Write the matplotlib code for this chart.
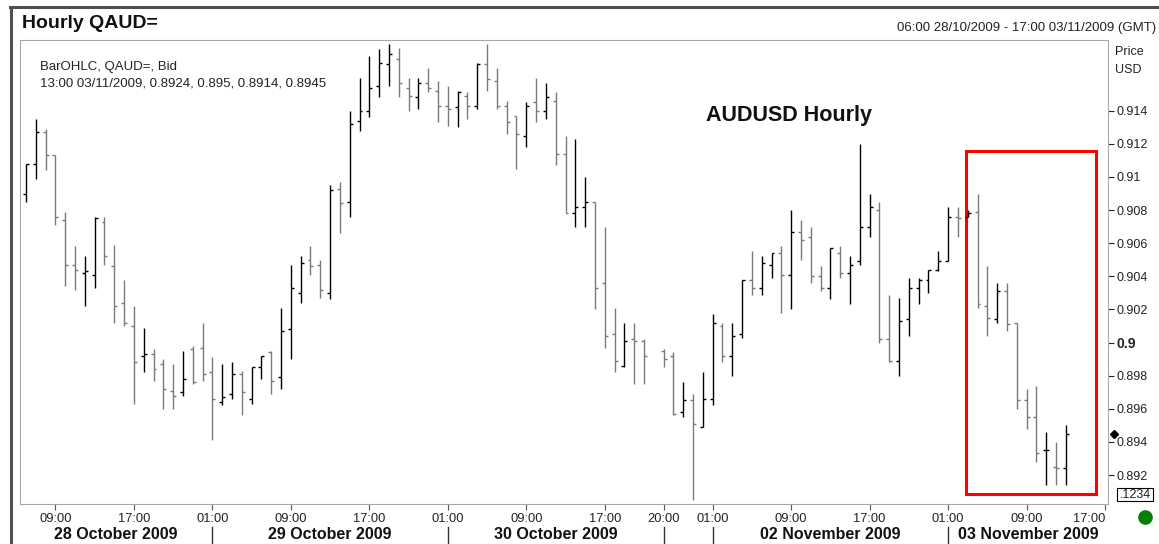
import numpy as np
import matplotlib
matplotlib.use("Agg")
import matplotlib.pyplot as plt
from matplotlib.patches import Rectangle
from matplotlib.lines import Line2D

plt.rcParams['font.family'] = ['Liberation Sans', 'DejaVu Sans']

# hourly AUDUSD bid bars, 06:00 28/10/2009 .. 13:00 03/11/2009 (slot 64 = weekend gap)
opens = [0.9090, 0.9108, 0.9127, 0.9113, 0.9074, 0.9047, 0.9042, 0.9041, 0.9073, 0.9046,
         0.9024, 0.9010, 0.8992, 0.8993, 0.8987, 0.8971, 0.8970, 0.8996, 0.8997, 0.8982,
         0.8964, 0.8969, 0.8981, 0.8966, 0.8985, 0.8994, 0.8979, 0.9008, 0.9030, 0.9050,
         0.9047, 0.9030, 0.9093, 0.9085, 0.9134, 0.9140, 0.9155, 0.9168, 0.9171, 0.9154,
         0.9148, 0.9157, 0.9152, 0.9143, 0.9142, 0.9149, 0.9143, 0.9168, 0.9158, 0.9143,
         0.9137, 0.9125, 0.9145, 0.9140, 0.9146, 0.9114, 0.9078, 0.9082, 0.9085, 0.9036,
         0.9005, 0.8986, 0.9002, 0.9001, np.nan, 0.8995, 0.8992, 0.8958, 0.8965, 0.8949,
         0.8966, 0.9010, 0.8992, 0.9005, 0.9038, 0.9033, 0.9047, 0.9054, 0.9041, 0.9067,
         0.9064, 0.9040, 0.9033, 0.9054, 0.9042, 0.9049, 0.9070, 0.9080, 0.9002, 0.8989,
         0.9014, 0.9033, 0.9038, 0.9044, 0.9049, 0.9076, 0.9076, 0.9079, 0.9022, 0.9014,
         0.9031, 0.9012, 0.8965, 0.8955, 0.8935, 0.8925, 0.8924]
highs = [0.9108, 0.9135, 0.9129, 0.9113, 0.9079, 0.9058, 0.9052, 0.9076, 0.9076, 0.9059,
         0.9038, 0.9022, 0.9009, 0.8996, 0.8990, 0.8987, 0.8995, 0.8998, 0.9012, 0.8991,
         0.8987, 0.8988, 0.8983, 0.8985, 0.8992, 0.8995, 0.9021, 0.9047, 0.9052, 0.9058,
         0.9050, 0.9095, 0.9097, 0.9140, 0.9160, 0.9173, 0.9177, 0.9180, 0.9178, 0.9160,
         0.9160, 0.9166, 0.9158, 0.9155, 0.9152, 0.9151, 0.9169, 0.9180, 0.9166, 0.9146,
         0.9137, 0.9145, 0.9160, 0.9157, 0.9151, 0.9125, 0.9123, 0.9100, 0.9085, 0.9070,
         0.9021, 0.9012, 0.9012, 0.9002, np.nan, 0.8996, 0.8994, 0.8976, 0.8969, 0.8982,
         0.9017, 0.9012, 0.9012, 0.9038, 0.9055, 0.9052, 0.9054, 0.9058, 0.9080, 0.9074,
         0.9070, 0.9046, 0.9057, 0.9058, 0.9052, 0.9120, 0.9090, 0.9085, 0.9029, 0.9027,
         0.9039, 0.9039, 0.9044, 0.9055, 0.9082, 0.9082, 0.9080, 0.9090, 0.9046, 0.9036,
         0.9036, 0.9012, 0.8972, 0.8974, 0.8946, 0.8940, 0.8950]
lows = [0.9085, 0.9099, 0.9104, 0.9071, 0.9034, 0.9032, 0.9022, 0.9033, 0.9047, 0.9012,
        0.9010, 0.8963, 0.8982, 0.8977, 0.8960, 0.8960, 0.8968, 0.8975, 0.8977, 0.8941,
        0.8962, 0.8966, 0.8956, 0.8963, 0.8978, 0.8969, 0.8972, 0.8990, 0.9024, 0.9041,
        0.9027, 0.9026, 0.9066, 0.9076, 0.9128, 0.9136, 0.9148, 0.9155, 0.9148, 0.9140,
        0.9141, 0.9151, 0.9133, 0.9131, 0.9130, 0.9135, 0.9141, 0.9152, 0.9141, 0.9126,
        0.9105, 0.9118, 0.9133, 0.9135, 0.9107, 0.9078, 0.9070, 0.9070, 0.9020, 0.8997,
        0.8982, 0.8985, 0.8975, 0.8975, np.nan, 0.8985, 0.8956, 0.8955, 0.8905, 0.8949,
        0.8962, 0.8988, 0.8980, 0.9003, 0.9029, 0.9029, 0.9039, 0.9018, 0.9020, 0.9050,
        0.9036, 0.9031, 0.9026, 0.9039, 0.9023, 0.9047, 0.9064, 0.9000, 0.8988, 0.8980,
        0.9004, 0.9023, 0.9030, 0.9043, 0.9049, 0.9064, 0.9076, 0.9021, 0.9004, 0.9012,
        0.9007, 0.8960, 0.8948, 0.8928, 0.8914, 0.8914, 0.8914]
closes = [0.9108, 0.9127, 0.9113, 0.9076, 0.9047, 0.9044, 0.9043, 0.9075, 0.9052, 0.9022,
          0.9012, 0.8988, 0.8993, 0.8984, 0.8972, 0.8968, 0.8978, 0.8976, 0.8981, 0.8966,
          0.8967, 0.8981, 0.8970, 0.8985, 0.8992, 0.8977, 0.9007, 0.9033, 0.9048, 0.9046,
          0.9032, 0.9092, 0.9084, 0.9132, 0.9140, 0.9154, 0.9169, 0.9174, 0.9157, 0.9149,
          0.9157, 0.9154, 0.9143, 0.9141, 0.9151, 0.9143, 0.9168, 0.9159, 0.9143, 0.9133,
          0.9126, 0.9143, 0.9140, 0.9148, 0.9114, 0.9078, 0.9082, 0.9085, 0.9033, 0.9004,
          0.8989, 0.9001, 0.9001, 0.8992, np.nan, 0.8990, 0.8957, 0.8965, 0.8951, 0.8966,
          0.9012, 0.8992, 0.9004, 0.9038, 0.9033, 0.9048, 0.9054, 0.9041, 0.9067, 0.9062,
          0.9040, 0.9033, 0.9057, 0.9042, 0.9047, 0.9070, 0.9082, 0.9002, 0.8989, 0.9013,
          0.9033, 0.9038, 0.9044, 0.9049, 0.9076, 0.9075, 0.9078, 0.9023, 0.9015, 0.9031,
          0.9011, 0.8965, 0.8955, 0.8933, 0.8935, 0.8924, 0.8945]

time_ticks = [3, 11, 19, 27, 35, 43, 51, 59, 65, 70, 78, 86, 94, 102, 110]
time_labels = ["09:00", "17:00", "01:00", "09:00", "17:00", "01:00", "09:00", "17:00",
               "20:00", "01:00", "09:00", "17:00", "01:00", "09:00", "17:00"]
day_breaks = [19, 43, 65, 70, 94]
day_labels = ["28 October 2009", "29 October 2009", "30 October 2009", "", "02 November 2009",
              "03 November 2009"]
price_ticks = [0.892, 0.894, 0.896, 0.898, 0.900, 0.902, 0.904, 0.906, 0.908, 0.910, 0.912, 0.914]
price_labels = ["0.892", "0.894", "0.896", "0.898", "0.9", "0.902", "0.904", "0.906",
                "0.908", "0.91", "0.912", "0.914"]
highlight = (95.8, 109.1, 0.89085, 0.91157)  # red box: x0, x1, y0, y1

W, H = 1159, 544
def fx(px): return px / W
def fy(py): return 1 - py / H

fig = plt.figure(figsize=(W / 100, H / 100), dpi=100)
fig.patch.set_facecolor("white")
ax = fig.add_axes([fx(20), fy(503.5), fx(1108) - fx(20), fy(39.5) - fy(503.5)])

xmin, xmax = -0.61, 110.3
ax.set_xlim(xmin, xmax)
ax.set_ylim(0.89028, 0.9183)

o = np.array(opens); h = np.array(highs); l = np.array(lows); c = np.array(closes)
x = np.arange(len(o))
ok = ~np.isnan(o)
cols = np.where(c >= o, "black", "#7a7a7a")[ok]
tw = 0.3
ax.vlines(x[ok], l[ok], h[ok], colors=cols, lw=1.0)
ax.hlines(o[ok], x[ok] - tw, x[ok], colors=cols, lw=1.0)
ax.hlines(c[ok], x[ok], x[ok] + tw, colors=cols, lw=1.0)

# highlight box
x0, x1, y0, y1 = highlight
ax.add_patch(Rectangle((x0, y0), x1 - x0, y1 - y0, fill=False, ec="#ff0000", lw=2.2))

# last price marker
ax.plot([110.9], [closes[-1]], marker="D", color="black", ms=4.5, clip_on=False)

for s in ax.spines.values():
    s.set_color("#a8a8a8")
    s.set_linewidth(0.8)

ax.yaxis.tick_right()
ax.set_yticks(price_ticks)
ax.set_yticklabels(price_labels)
ax.tick_params(axis="y", direction="out", length=4, width=0.8, pad=2, labelsize=9,
               colors="#222222")
for t in ax.get_yticklabels():
    t.set_color("#222222")
    if t.get_text() == "0.9":
        t.set_fontweight("bold")
        t.set_fontsize(10)

ax.set_xticks(time_ticks)
ax.set_xticklabels(time_labels)
ax.tick_params(axis="x", direction="out", length=4, width=0.8, pad=3, labelsize=9.3,
               colors="#555555", labelcolor="#222222")
ax.get_xticklabels()[-1].set_horizontalalignment("right")

# day separators and labels
tr = ax.get_xaxis_transform()
for b in day_breaks:
    ax.add_line(Line2D([b, b], [-0.05, -0.09], transform=tr, color="#333333", lw=1.0,
                       clip_on=False))
edges = [xmin] + day_breaks + [xmax]
for i, lab in enumerate(day_labels):
    if lab:
        ax.text((edges[i] + edges[i + 1]) / 2, -0.066, lab, transform=tr, ha="center",
                va="center", fontsize=11.5, fontweight="bold", color="#111111")

# texts
fig.text(fx(22), fy(24), "Hourly QAUD=", fontsize=14, fontweight="bold", va="center",
         ha="left", color="#111111")
fig.text(fx(1156), fy(28), "06:00 28/10/2009 - 17:00 03/11/2009 (GMT)", fontsize=9.5,
         va="center", ha="right", color="#222222")
fig.text(fx(40.5), fy(66.7), "BarOHLC, QAUD=, Bid", fontsize=9.5, va="center", ha="left",
         color="#222222")
fig.text(fx(40.5), fy(83.3), "13:00 03/11/2009, 0.8924, 0.895, 0.8914, 0.8945", fontsize=9.5,
         va="center", ha="left", color="#222222")
fig.text(fx(789), fy(115), "AUDUSD Hourly", fontsize=15.5, fontweight="bold", va="center",
         ha="center", color="#111111")
fig.text(fx(1115), fy(51.7), "Price", fontsize=9, va="center", ha="left", color="#222222")
fig.text(fx(1115), fy(70), "USD", fontsize=9, va="center", ha="left", color="#222222")

# small value box and status dot
fig.add_artist(Rectangle((fx(1117), fy(501)), fx(1153) - fx(1117), fy(488) - fy(501),
                         transform=fig.transFigure, fill=False, ec="black", lw=0.8))
fig.text(fx(1151), fy(494.5), ".1234", fontsize=9, va="center", ha="right", color="#222222")
fig.add_artist(Line2D([fx(1145)], [fy(517)], marker="o", ms=9.5, color="#008000",
                      transform=fig.transFigure))

# outer frame
fig.add_artist(Line2D([fx(10.5), fx(10.5)], [fy(7), fy(544)], transform=fig.transFigure,
                      color="#505050", lw=2.2))
fig.add_artist(Line2D([fx(9.5), fx(1157)], [fy(7), fy(7)], transform=fig.transFigure,
                      color="#505050", lw=2.2))

fig.savefig("out.png", dpi=100)
